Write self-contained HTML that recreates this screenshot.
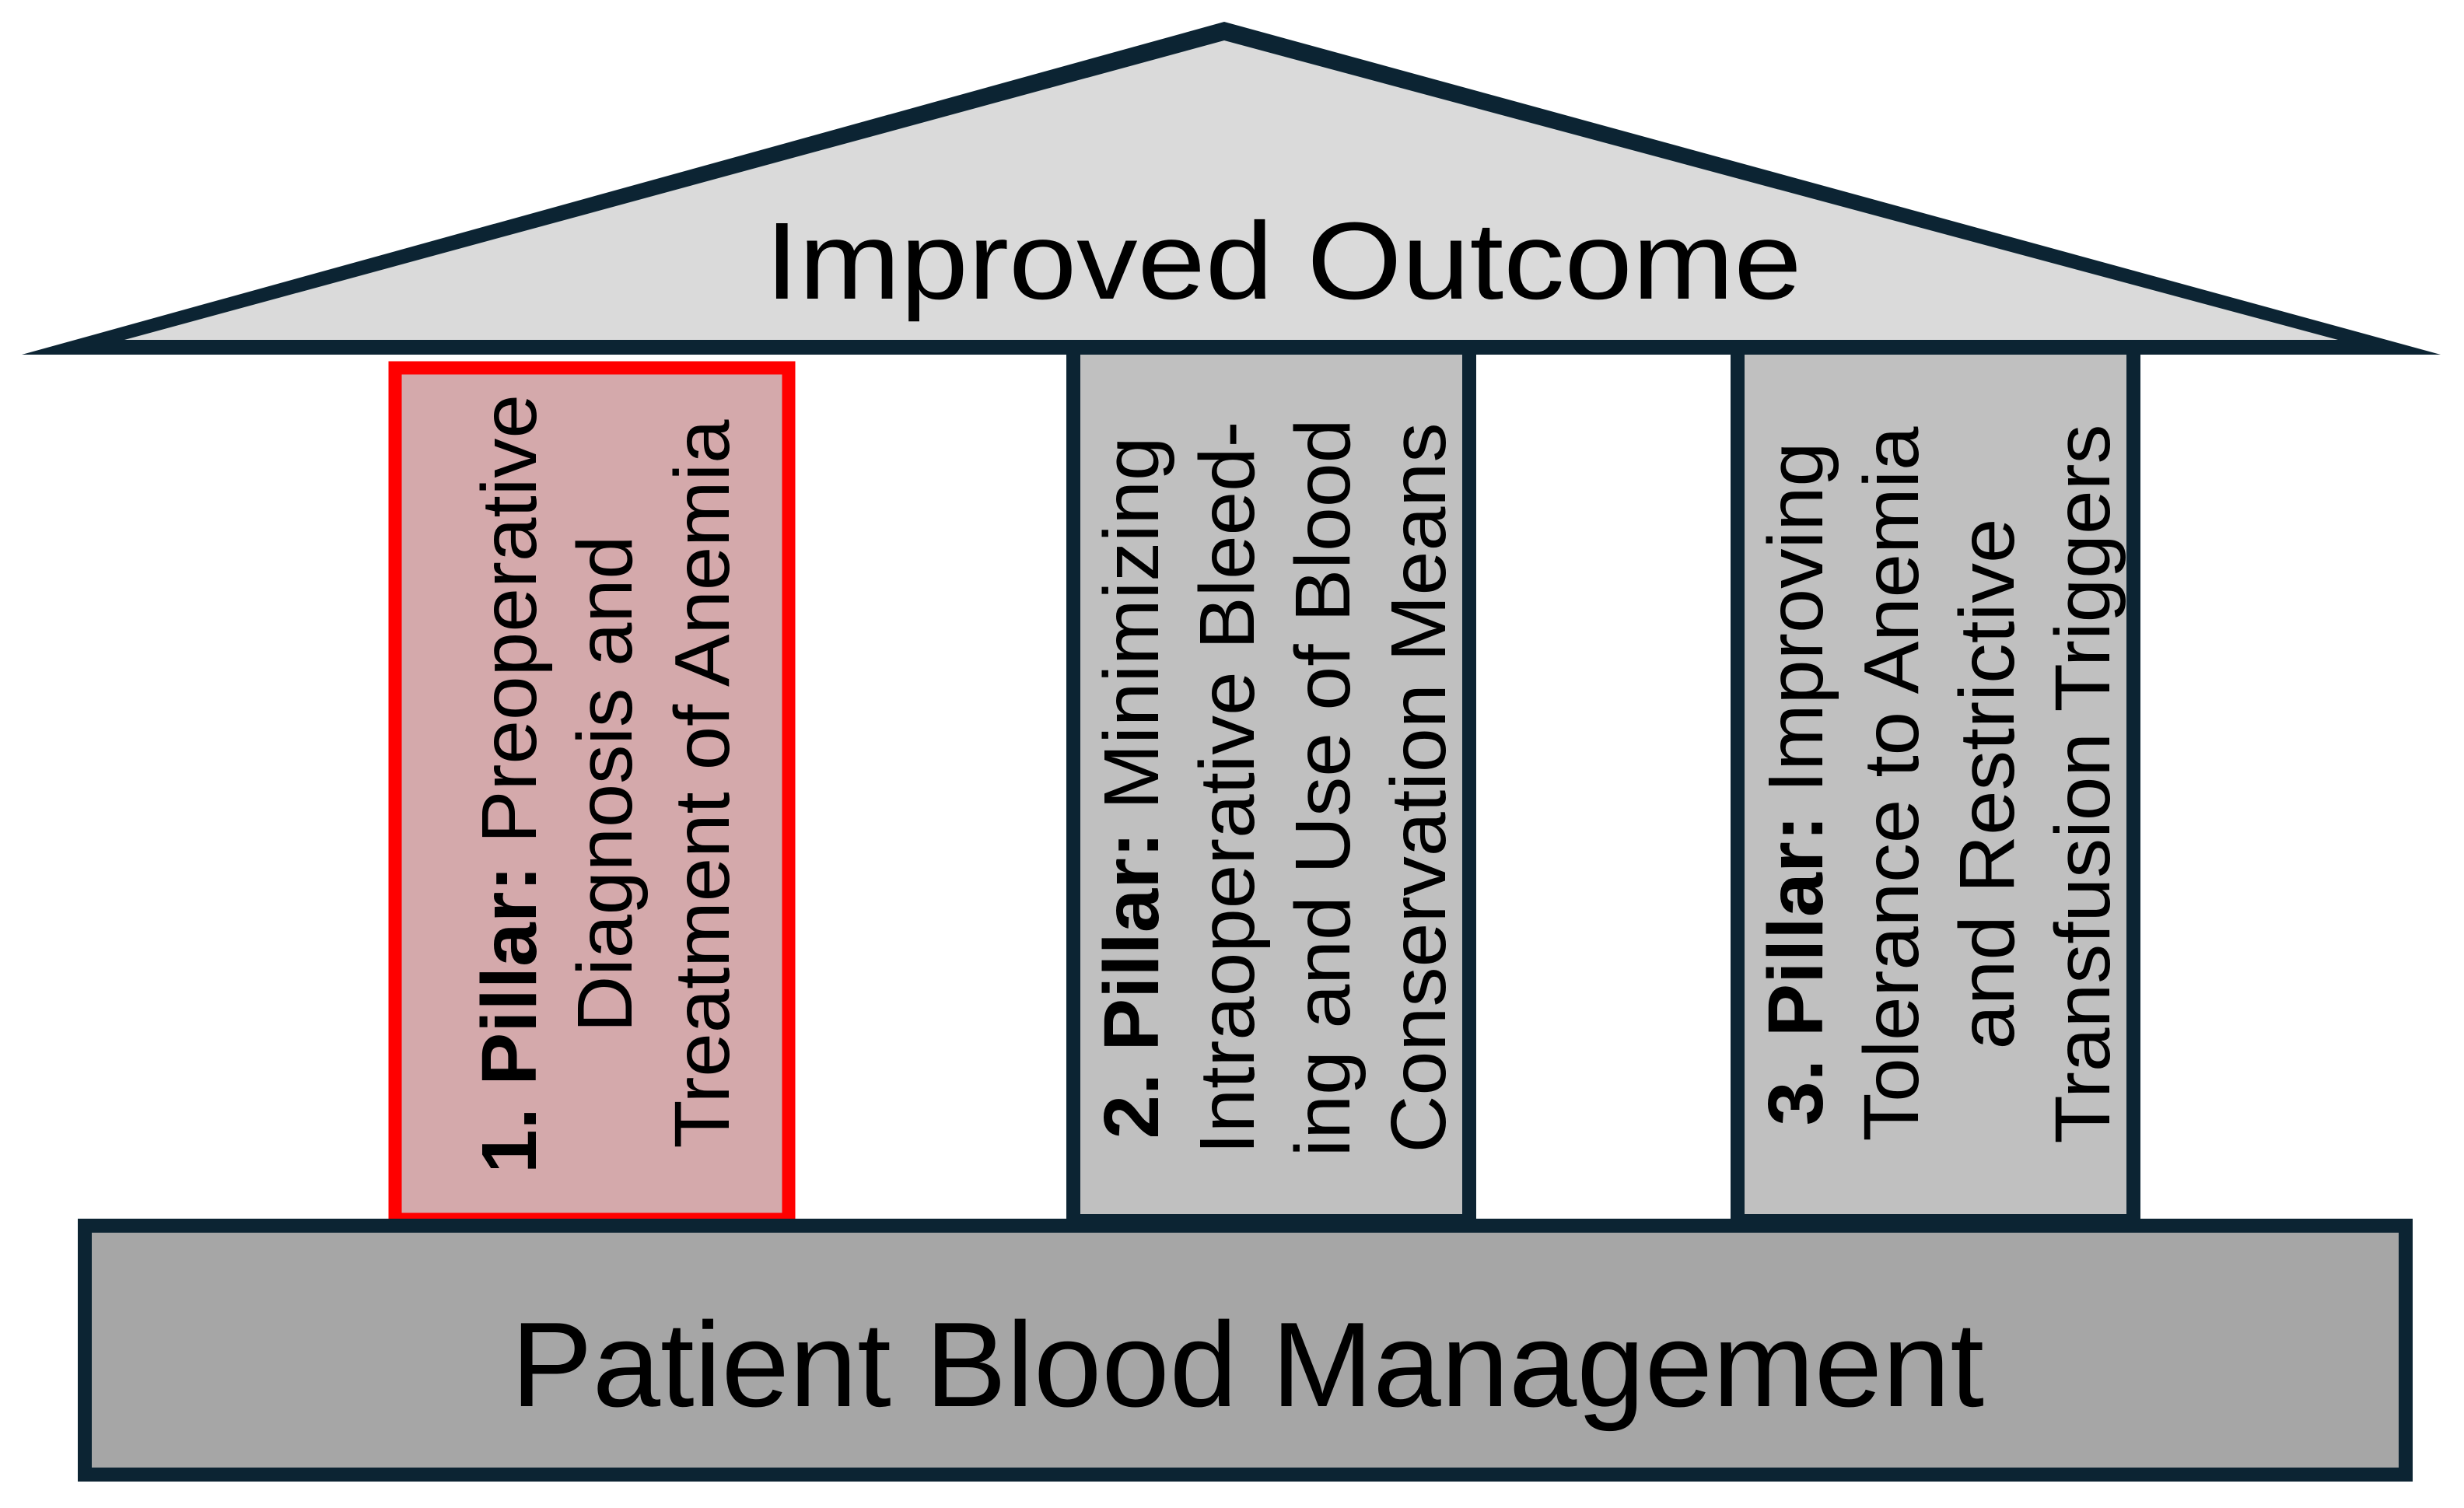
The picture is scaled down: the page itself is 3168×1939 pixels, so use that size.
<!DOCTYPE html>
<html><head><meta charset="utf-8"><style>
html,body{margin:0;padding:0;background:#fff;}
svg{display:block;}
text{font-family:"Liberation Sans",Arial,sans-serif;fill:#000;}
</style></head><body>
<svg width="3168" height="1939" viewBox="0 0 3168 1939" xmlns="http://www.w3.org/2000/svg">
<rect width="3168" height="1939" fill="#fff"/>
<!-- pillars -->
<rect x="508" y="473" width="506" height="1095" fill="#d4a9ab" stroke="#ff0000" stroke-width="17"/>
<rect x="1380" y="440" width="509" height="1130" fill="#c0c0c0" stroke="#0c2433" stroke-width="18"/>
<rect x="2234" y="440" width="509" height="1130" fill="#c0c0c0" stroke="#0c2433" stroke-width="18"/>
<!-- base -->
<rect x="109" y="1576" width="2984" height="320" fill="#a6a6a6" stroke="#0c2433" stroke-width="18"/>
<!-- roof -->
<polygon points="28,456 1574,28 3138,456" fill="#0c2433"/>
<polygon points="160,437 1574,52 3006,437" fill="#dadada"/>
<text x="1650" y="384" font-size="141" text-anchor="middle" textLength="1333" lengthAdjust="spacingAndGlyphs">Improved Outcome</text>
<text x="1604" y="1808" font-size="155" text-anchor="middle" textLength="1894" lengthAdjust="spacingAndGlyphs">Patient Blood Management</text>
<!-- pillar 1 -->
<g font-size="100" text-anchor="middle">
<text transform="translate(689,1008) rotate(-90)" textLength="1002" lengthAdjust="spacingAndGlyphs"><tspan font-weight="bold">1. Pillar:</tspan> Preoperative</text>
<text transform="translate(812,1008) rotate(-90)" textLength="639" lengthAdjust="spacingAndGlyphs">Diagnosis and</text>
<text transform="translate(937,1008) rotate(-90)" textLength="937" lengthAdjust="spacingAndGlyphs">Treatment of Anemia</text>
<!-- pillar 2 -->
<text transform="translate(1489,1013) rotate(-90)" textLength="903" lengthAdjust="spacingAndGlyphs"><tspan font-weight="bold">2. Pillar:</tspan> Minimizing</text>
<text transform="translate(1612,1013) rotate(-90)" textLength="943" lengthAdjust="spacingAndGlyphs">Intraoperative Bleed-</text>
<text transform="translate(1735,1013) rotate(-90)" textLength="949" lengthAdjust="spacingAndGlyphs">ing and Use of Blood</text>
<text transform="translate(1858,1013) rotate(-90)" textLength="939" lengthAdjust="spacingAndGlyphs">Conservation Means</text>
<!-- pillar 3 -->
<text transform="translate(2343,1008) rotate(-90)" textLength="879" lengthAdjust="spacingAndGlyphs"><tspan font-weight="bold">3. Pillar:</tspan> Improving</text>
<text transform="translate(2466,1008) rotate(-90)" textLength="919" lengthAdjust="spacingAndGlyphs">Tolerance to Anemia</text>
<text transform="translate(2589,1008) rotate(-90)" textLength="683" lengthAdjust="spacingAndGlyphs">and Restrictive</text>
<text transform="translate(2712,1008) rotate(-90)" textLength="925" lengthAdjust="spacingAndGlyphs">Transfusion Triggers</text>
</g>
</svg>
</body></html>
